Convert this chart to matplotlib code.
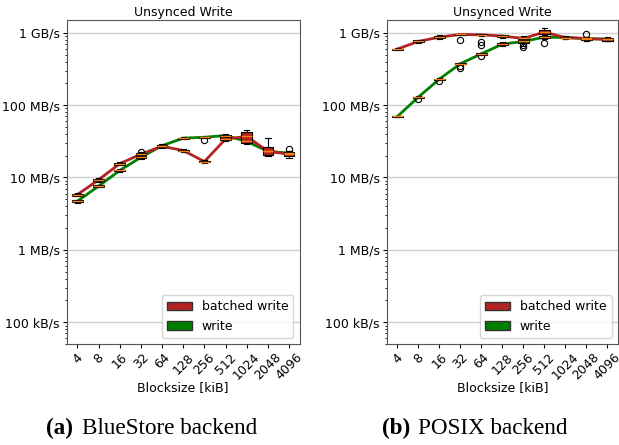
import matplotlib.pyplot as plt
from matplotlib.patches import Patch
from matplotlib.ticker import FixedLocator, LogLocator, NullFormatter

# blocksizes in kiB
blocksizes = ['4', '8', '16', '32', '64', '128', '256', '512', '1024', '2048', '4096']

# throughput in MB/s
# BlueStore backend
bs_batched_med = [5.8, 9.3, 15.5, 21, 27, 23.6, 16.6, 34, 37, 23, 21]
bs_batched_q1 = [5.6, 9.0, 15.0, 20.3, 26.0, 23.0, 16.2, 32.5, 30, 20.5, 19.8]
bs_batched_q3 = [6.0, 9.6, 16.0, 21.8, 28.0, 24.2, 17.0, 36.0, 43, 26, 22]
bs_batched_lo = [5.5, 8.8, 14.7, 20, 25.5, 22.8, 16.0, 31.5, 29, 20, 18.5]
bs_batched_hi = [6.1, 9.8, 16.3, 22.2, 28.5, 24.5, 17.3, 37, 46, 35, 23]
bs_batched_fliers = [[], [], [], [22.5], [], [], [33], [], [], [], []]

bs_write_med = [4.7, 7.6, 12.5, 19, 27.5, 35, 36, 38, 31.5, 23, 21.7]
bs_write_q1 = [4.55, 7.4, 12.2, 18.5, 26.5, 34.5, 35.5, 37, 30.5, 22, 21]
bs_write_q3 = [4.85, 7.8, 12.8, 19.5, 28.5, 35.5, 36.5, 39, 32.5, 24, 22.5]
bs_write_lo = [4.45, 7.3, 12.0, 18.2, 26, 34.2, 35.2, 36, 30, 21.5, 20.5]
bs_write_hi = [4.95, 7.9, 13.0, 19.8, 29, 35.8, 36.8, 40, 33, 24.5, 23]
bs_write_fliers = [[], [], [], [], [], [], [], [], [], [], [25]]

# POSIX backend
px_batched_med = [596, 758, 870, 948, 937, 900, 835, 1020, 860, 835, 808]
px_batched_q1 = [585, 735, 850, 935, 920, 880, 815, 960, 845, 810, 780]
px_batched_q3 = [605, 790, 890, 960, 955, 920, 860, 1080, 880, 860, 830]
px_batched_lo = [580, 720, 830, 925, 905, 860, 780, 930, 830, 780, 760]
px_batched_hi = [610, 800, 920, 970, 970, 940, 900, 1150, 900, 880, 850]
px_batched_fliers = [[], [], [], [800], [735, 668], [], [], [], [], [970], []]

px_write_med = [69.7, 129, 229, 373, 512, 697, 758, 870, 860, 826, 818]
px_write_q1 = [69, 127, 225, 365, 500, 670, 720, 850, 840, 800, 780]
px_write_q3 = [70.5, 131, 233, 380, 525, 720, 790, 890, 880, 850, 850]
px_write_lo = [68.5, 126, 222, 360, 495, 650, 650, 830, 830, 780, 760]
px_write_hi = [71, 132, 236, 385, 530, 740, 860, 900, 890, 870, 870]
px_write_fliers = [[], [122], [217], [330, 345], [485], [], [668, 630], [720], [], [], []]

ytick_vals = [0.1, 1, 10, 100, 1000]
ytick_labels = ['100 kB/s', '1 MB/s', '10 MB/s', '100 MB/s', '1 GB/s']

RED = '#b22222'
GREEN = '#008000'
FS = 9


def make_stats(med, q1, q3, lo, hi, fliers):
    return [dict(med=m, q1=a, q3=b, whislo=l, whishi=h, fliers=f)
            for m, a, b, l, h, f in zip(med, q1, q3, lo, hi, fliers)]


def draw(ax, series):
    pos = list(range(len(blocksizes)))
    for stats, color in series:
        ax.plot(pos, [s['med'] for s in stats], color=color, lw=2, zorder=2)
        ax.bxp(stats, positions=pos, widths=0.5, patch_artist=True,
               boxprops=dict(facecolor=color, edgecolor='black', lw=0.8),
               medianprops=dict(color='#ff7f0e', lw=1),
               whiskerprops=dict(color='black', lw=0.8),
               capprops=dict(color='black', lw=0.8),
               flierprops=dict(marker='o', markerfacecolor='none',
                               markeredgecolor='black', markersize=4.5,
                               markeredgewidth=0.8),
               zorder=3)
    ax.set_yscale('log')
    ax.set_ylim(0.05, 1500)
    ax.set_xlim(-0.5, len(blocksizes) - 0.5)
    ax.yaxis.set_major_locator(FixedLocator(ytick_vals))
    ax.set_yticklabels(ytick_labels)
    ax.yaxis.set_minor_locator(LogLocator(base=10, subs=range(2, 10)))
    ax.yaxis.set_minor_formatter(NullFormatter())
    ax.set_xticks(pos)
    ax.set_xticklabels(blocksizes, rotation=45)
    ax.tick_params(labelsize=FS, length=3, pad=2)
    ax.tick_params(which='minor', length=1.5)
    ax.grid(True, axis='y', which='major', color='#d0d0d0', lw=1)
    ax.set_axisbelow(True)
    ax.set_title('Unsynced Write', fontsize=FS, pad=3)
    ax.set_xlabel('Blocksize [kiB]', fontsize=FS, labelpad=-1)
    for sp in ax.spines.values():
        sp.set_color('#555555')
    handles = [Patch(facecolor=RED, edgecolor='#333333', label='batched write'),
               Patch(facecolor=GREEN, edgecolor='#333333', label='write')]
    ax.legend(handles=handles, loc='lower right', fontsize=FS)


fig = plt.figure(figsize=(6.19, 4.45), dpi=100)
ax1 = fig.add_axes([0.108, 0.227, 0.376, 0.728])
ax2 = fig.add_axes([0.625, 0.227, 0.373, 0.728])

draw(ax1, [
    (make_stats(bs_write_med, bs_write_q1, bs_write_q3, bs_write_lo, bs_write_hi, bs_write_fliers), GREEN),
    (make_stats(bs_batched_med, bs_batched_q1, bs_batched_q3, bs_batched_lo, bs_batched_hi, bs_batched_fliers), RED),
])
draw(ax2, [
    (make_stats(px_write_med, px_write_q1, px_write_q3, px_write_lo, px_write_hi, px_write_fliers), GREEN),
    (make_stats(px_batched_med, px_batched_q1, px_batched_q3, px_batched_lo, px_batched_hi, px_batched_fliers), RED),
])

# subfigure captions
cap = dict(fontsize=16.7, family='Liberation Serif', va='baseline')
fig.text(0.074, 0.025, '(a)', fontweight='bold', **cap)
fig.text(0.132, 0.025, 'BlueStore backend', **cap)
fig.text(0.617, 0.025, '(b)', fontweight='bold', **cap)
fig.text(0.675, 0.025, 'POSIX backend', **cap)

plt.savefig('out.png', dpi=100)
